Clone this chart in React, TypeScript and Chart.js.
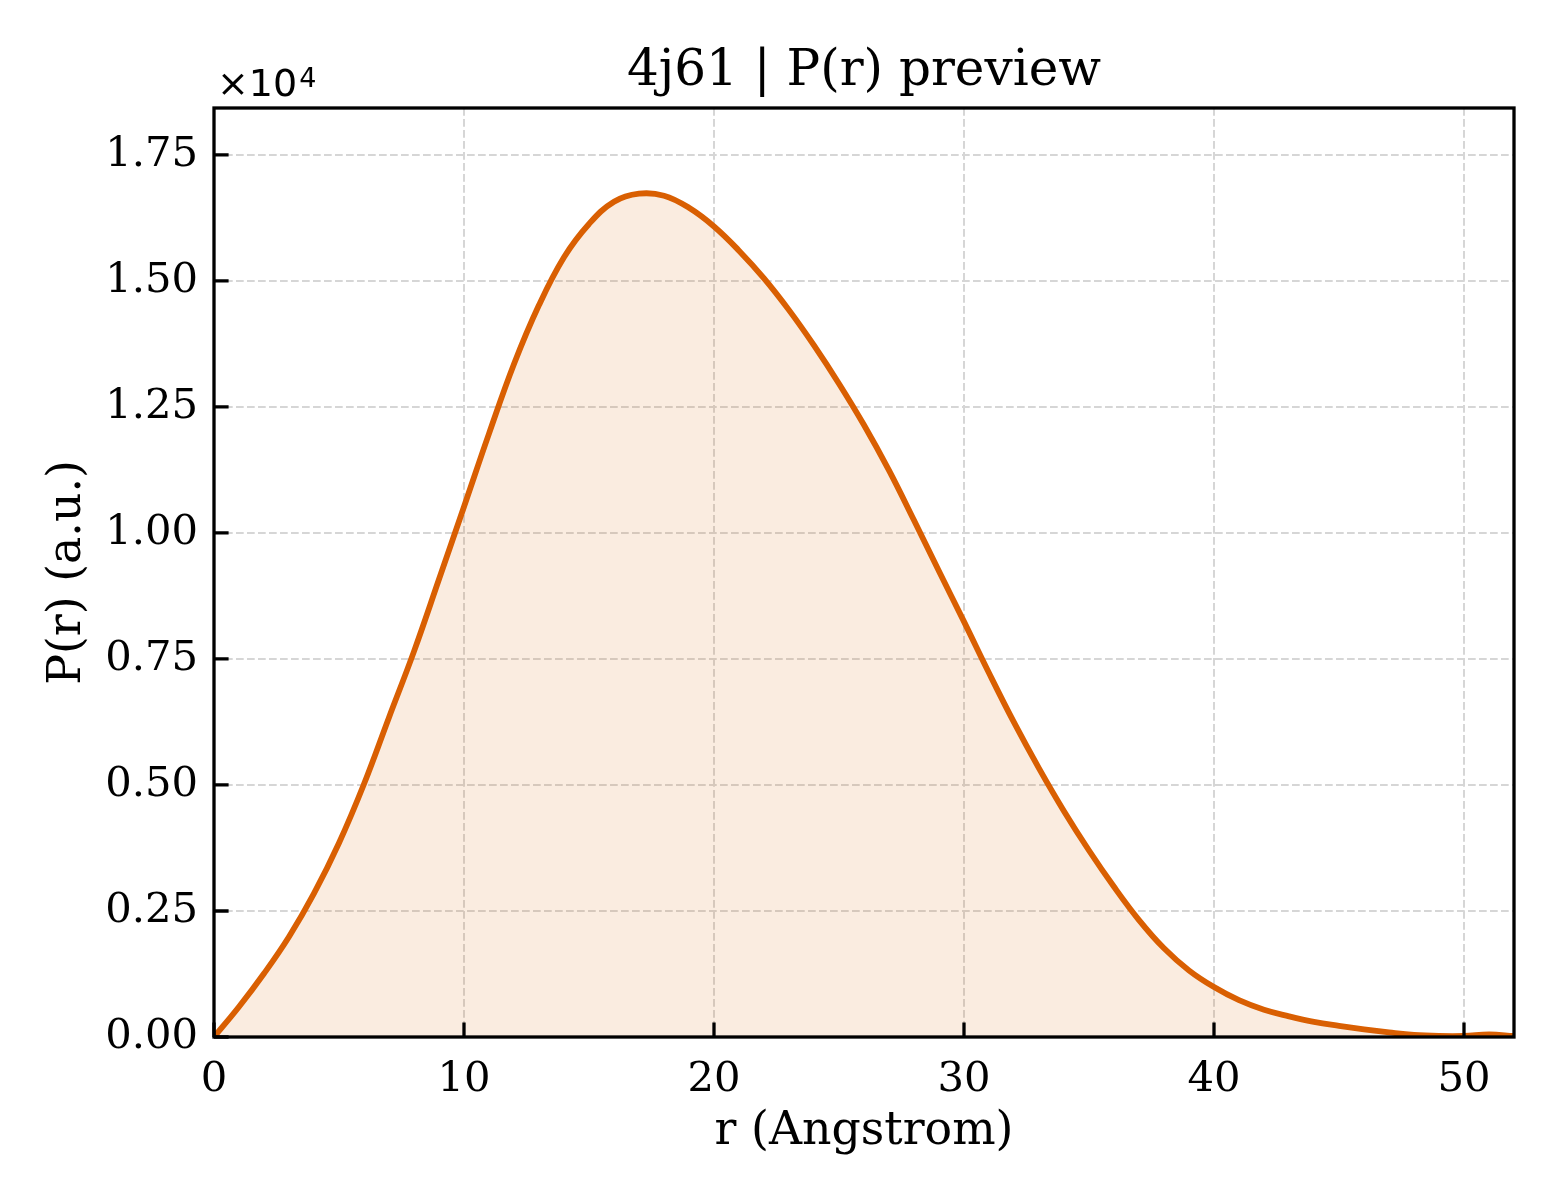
import React, { useEffect, useRef } from 'react';
import { Chart, registerables } from 'chart.js';

Chart.register(...registerables);

const rValues = [
    0, 1, 2, 3, 4, 5, 6, 7, 8, 9, 10, 11, 12, 13, 14, 15, 16, 17, 18, 19, 20, 21, 22, 23, 24, 25, 26,
    27, 28, 29, 30, 31, 32, 33, 34, 35, 36, 37, 38, 39, 40, 41, 42, 43, 44, 45, 46, 47, 48, 49, 50, 51, 52,
];
const prValues = [
    0, 600, 1260, 1990, 2850, 3850, 5020, 6340, 7650, 9080, 10520, 11970, 13350, 14520, 15470, 16130,
    16570, 16730, 16690, 16450, 16080, 15600, 15050, 14420, 13720, 12960, 12140, 11240, 10250, 9240,
    8240, 7220, 6240, 5330, 4480, 3700, 2980, 2320, 1760, 1320, 990, 730, 540, 410, 300, 220, 150, 90,
    40, 20, 20, 50, 20,
];
const xTicks = [0, 10, 20, 30, 40, 50];
const yTicks = [0, 2500, 5000, 7500, 10000, 12500, 15000, 17500];

const SERIF = "'DejaVu Serif', serif";
const SANS = "'DejaVu Sans', sans-serif";
const ORANGE = '#d95f02';

// matplotlib-style frame, inward ticks, title and offset text
const framePlugin = {
    id: 'frame',
    afterDraw(chart: Chart) {
        const { ctx, chartArea, scales } = chart;
        const { left, right, top, bottom } = chartArea;
        ctx.save();
        ctx.strokeStyle = '#000';
        ctx.lineWidth = 3.3;
        ctx.beginPath();
        xTicks.forEach(v => {
            const x = scales.x.getPixelForValue(v);
            ctx.moveTo(x, bottom);
            ctx.lineTo(x, bottom - 14.6);
        });
        yTicks.forEach(v => {
            const y = scales.y.getPixelForValue(v);
            ctx.moveTo(left, y);
            ctx.lineTo(left + 14.6, y);
        });
        ctx.stroke();
        ctx.strokeRect(left, top, right - left, bottom - top);

        ctx.fillStyle = '#000';
        ctx.textBaseline = 'alphabetic';
        ctx.textAlign = 'center';
        ctx.font = `50px ${SERIF}`;
        ctx.fillText('4j61 | P(r) preview', (left + right) / 2, top - 23);

        ctx.textAlign = 'left';
        ctx.font = `38px ${SANS}`;
        ctx.fillText('×10', left + 3, top - 12);
        const w = ctx.measureText('×10').width;
        ctx.font = `27px ${SANS}`;
        ctx.fillText('4', left + 5 + w, top - 21);
        ctx.restore();
    },
};

export default function App() {
    const canvasRef = useRef<HTMLCanvasElement>(null);

    useEffect(() => {
        if (!canvasRef.current) return;
        const tickFont = { family: SERIF, size: 41.7 };
        const titleFont = { family: SERIF, size: 45.8 };
        const gridOpts = { color: '#d6d6d6', lineWidth: 2, drawTicks: false, tickLength: 0 };

        const chart = new Chart(canvasRef.current, {
            type: 'line',
            data: {
                datasets: [{
                    label: 'P(r)',
                    data: rValues.map((r, i) => ({ x: r, y: prValues[i] })),
                    borderColor: ORANGE,
                    borderWidth: 5.8,
                    backgroundColor: 'rgba(217, 95, 2, 0.12)',
                    fill: 'origin',
                    pointRadius: 0,
                    tension: 0.4,
                }],
            },
            options: {
                animation: false,
                responsive: false,
                events: [],
                layout: { padding: { top: 108, right: 46, bottom: 0, left: 0 } },
                plugins: { legend: { display: false }, tooltip: { enabled: false }, title: { display: false } },
                scales: {
                    x: {
                        type: 'linear',
                        min: 0,
                        max: 52,
                        afterBuildTicks: (scale: any) => {
                            scale.ticks = xTicks.map(value => ({ value }));
                        },
                        afterFit: (scale: any) => {
                            scale.height = 163;
                            scale.paddingLeft = 0;
                            scale.paddingRight = 0;
                        },
                        ticks: { padding: 18, color: '#000', font: tickFont, maxRotation: 0 },
                        grid: gridOpts,
                        border: { display: false, dash: [7.7, 3.3] },
                        title: { display: true, text: 'r (Angstrom)', color: '#000', font: titleFont, padding: { top: 0, bottom: 40 } },
                    },
                    y: {
                        type: 'linear',
                        min: 0,
                        max: 18430,
                        afterBuildTicks: (scale: any) => {
                            scale.ticks = yTicks.map(value => ({ value }));
                        },
                        afterFit: (scale: any) => {
                            scale.width = 214;
                            scale.paddingTop = 0;
                            scale.paddingBottom = 0;
                        },
                        ticks: {
                            padding: 16,
                            color: '#000',
                            font: tickFont,
                            callback: (v: any) => (Number(v) / 1e4).toFixed(2),
                        },
                        grid: gridOpts,
                        border: { display: false, dash: [7.7, 3.3] },
                        title: { display: true, text: 'P(r) (a.u.)', color: '#000', font: titleFont, padding: { top: 40.5, bottom: 0 } },
                    },
                },
            },
            plugins: [framePlugin],
        });

        return () => chart.destroy();
    }, []);

    return (
        <div style={{ position: 'absolute', left: 0, top: 0, width: 1560, height: 1200, background: '#fff' }}>
            <canvas ref={canvasRef} width={1560} height={1200}></canvas>
        </div>
    );
}
